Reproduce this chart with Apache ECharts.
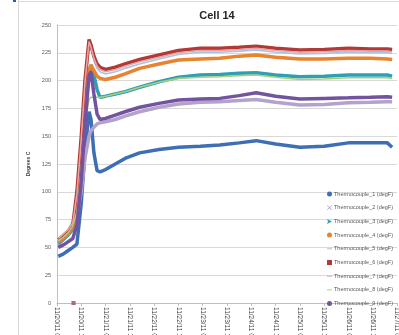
<!DOCTYPE html>
<html>
<head>
<meta charset="utf-8">
<title>Cell 14</title>
<script src="https://cdn.jsdelivr.net/npm/echarts@6/dist/echarts.min.js"></script>
<style>
  html, body { margin: 0; padding: 0; background: #ffffff; }
  #chart { width: 399px; height: 335px; }
</style>
</head>
<body>
<div id="chart"></div>
<script>
// Elapsed time, in axis-tick units (one tick = half a day)
const elapsed = [0.05, 0.25, 0.45, 0.65, 0.82, 1.0, 1.15, 1.32, 1.4, 1.52, 1.65, 1.77, 2.0, 2.4, 2.8,
                 3.4, 4.2, 5.0, 5.9, 6.7, 7.5, 8.2, 9.0, 10.0, 11.0, 12.0, 12.9, 13.6, 13.8];

const tickLabels = ["11/20/11 0:00", "11/20/11 12:00", "11/21/11 0:00", "11/21/11 12:00",
  "11/22/11 0:00", "11/22/11 12:00", "11/23/11 0:00", "11/23/11 12:00", "11/24/11 0:00",
  "11/24/11 12:00", "11/25/11 0:00", "11/25/11 12:00", "11/26/11 0:00", "11/26/11 12:00",
  "11/27/11 0:00"];

const yTicks = [0, 25, 50, 75, 100, 125, 150, 175, 200, 225, 250];

// Thermocouple readings
const tc1 = [42, 44, 47, 50, 53, 90, 135, 172, 165, 135, 119, 118, 120, 125, 130, 135, 138, 140, 141, 142, 144, 146, 143, 140, 141, 144, 144, 144, 140];
const tc2 = [52, 57, 64, 72, 79, 100, 130, 150, 155, 158, 161, 162, 163, 165, 168, 172, 176, 179, 180.5, 181, 182, 183, 180.5, 178, 178.5, 180, 180.5, 181, 181];
const tc3 = [54, 57, 61, 66, 85, 130, 175, 205, 214, 205, 192, 185, 186, 188, 190, 194, 199, 203, 205, 205.5, 206.5, 207, 205, 203.5, 204, 205, 205, 205, 204];
const tc4 = [55, 58, 62, 68, 90, 135, 180, 210, 214, 209, 204, 202, 201, 203, 206, 211, 215, 218.5, 219.5, 220, 222, 223, 221, 219.5, 219.5, 220, 220, 219.5, 219];
const tc5 = [56, 59, 63, 69, 95, 140, 190, 230, 228, 218, 211, 208, 206, 208, 211, 215, 219.5, 223.5, 225.5, 225.5, 226.5, 227.5, 225.5, 224, 224.5, 225.5, 225, 225, 224.5];
const tc6 = [57, 60, 64, 70, 100, 150, 200, 237, 232, 222, 215, 212, 210, 212, 215, 219, 223, 227, 229, 229, 230, 231, 229, 227.5, 228, 229, 228.5, 228.5, 228];
const tc7 = [58, 62, 66, 72, 98, 148, 198, 235, 230, 220, 213, 210, 208, 210, 213, 217, 221, 225, 227, 227, 228, 229, 227, 225.5, 226, 227, 226.5, 226.5, 226];
const tc8 = [56, 59, 63, 69, 82, 120, 165, 183, 185, 185, 185, 185, 186, 188, 190, 194, 198.5, 202, 203, 203.5, 204.5, 205, 203, 201, 201.5, 202.5, 202.5, 202.5, 202];
const tc9 = [50, 52, 55, 58, 70, 110, 160, 205, 208, 188, 170, 165, 166, 169, 172, 176, 179.5, 182.5, 183.5, 184, 186.5, 189, 186, 183.5, 184, 184.5, 185, 185.5, 185];

// Dropped-out readings logged as zero
const zeroTime = [0.68];
const zeroValue = [0];

const names = ["Thermocouple_1 (degF)", "Thermocouple_2 (degF)", "Thermocouple_3 (degF)",
  "Thermocouple_4 (degF)", "Thermocouple_5 (degF)", "Thermocouple_6 (degF)",
  "Thermocouple_7 (degF)", "Thermocouple_8 (degF)", "Thermocouple_9 (degF)"];
const readings = [tc1, tc2, tc3, tc4, tc5, tc6, tc7, tc8, tc9];

const colors = ["#3E6FB4", "#B3A2CB", "#2F9FB4", "#E8832F", "#A8C3E4", "#B23A36", "#E9A2A1", "#A8D07A", "#7352A0"];
const widths = [3.5, 3.5, 3.5, 3.5, 1.6, 3.5, 1.6, 1.6, 3.5];
const xMark = "path://M0,0L10,10M10,0L0,10";
const icons = ["circle", "path://M1,0L5,4L9,0L10,1L6,5L10,9L9,10L5,6L1,10L0,9L4,5L0,1Z",
  "path://M0,0L10,5L0,10L2,5Z", "circle", "path://M0,4L10,4L10,6L0,6Z", "rect",
  "path://M0,4L10,4L10,6L0,6Z", "path://M0,4L10,4L10,6L0,6Z", "circle"];

const pair = (vals) => elapsed.map((t, i) => [t, vals[i]]);
const zeroPts = zeroTime.map((t, i) => [t, zeroValue[i]]);

const series = readings.map((vals, i) => ({
  name: names[i],
  type: "line",
  data: pair(vals),
  showSymbol: false,
  symbol: "none",
  lineStyle: { color: colors[i], width: widths[i] },
  itemStyle: { color: colors[i] },
  z: 2 + i,
  animation: false
}));

// Zero readings from channels 6 and 2
series.push({
  name: names[5], type: "scatter", data: zeroPts, symbol: "rect", symbolSize: 4,
  itemStyle: { color: colors[5] }, z: 20, animation: false
});
series.push({
  name: names[1], type: "scatter", data: zeroPts, symbol: xMark, symbolSize: 4,
  itemStyle: { color: "transparent", borderColor: "#8F7FB8", borderWidth: 0.8 }, z: 21, animation: false
});

const chart = echarts.init(document.getElementById("chart"), null, { renderer: "canvas" });
chart.setOption({
  backgroundColor: "#ffffff",
  animation: false,
  title: {
    text: "Cell 14",
    left: 212, top: 5,
    textAlign: "center",
    textStyle: { fontFamily: "Liberation Sans", fontSize: 11, fontWeight: "bold", color: "#262626" }
  },
  graphic: [
    { type: "line", shape: { x1: 18.5, y1: 0, x2: 18.5, y2: 335 }, style: { stroke: "#d9d9d9", lineWidth: 1 }, silent: true },
    { type: "line", shape: { x1: 18, y1: 1.5, x2: 399, y2: 1.5 }, style: { stroke: "#d9d9d9", lineWidth: 1 }, silent: true },
    { type: "rect", shape: { x: 13, y: 0, width: 3, height: 2 }, style: { fill: "#2f57c8" }, silent: true }
  ],
  legend: {
    orient: "vertical",
    left: 327, top: 191,
    itemWidth: 5, itemHeight: 5, itemGap: 7.7,
    padding: 0,
    textStyle: { fontFamily: "Liberation Sans", fontSize: 5.5, color: "#595959", lineHeight: 5, padding: [0, 0, 0, -3] },
    data: names.map((n, i) => ({ name: n, icon: icons[i], itemStyle: { color: colors[i] } }))
  },
  grid: { left: 57, right: 2, top: 25, bottom: 32, containLabel: false, outerBoundsMode: "none" },
  xAxis: {
    type: "value",
    min: 0, max: 14, interval: 1,
    axisLine: { show: true, onZero: false, lineStyle: { color: "#bfbfbf", width: 1 } },
    axisTick: { show: true, length: 3, lineStyle: { color: "#bfbfbf" } },
    splitLine: { show: false },
    axisLabel: {
      rotate: -90, margin: 4,
      fontFamily: "Liberation Sans", fontSize: 6.5, color: "#404040",
      formatter: (v) => tickLabels[Math.round(v)] || ""
    }
  },
  yAxis: {
    type: "value",
    min: yTicks[0], max: yTicks[yTicks.length - 1], interval: 25,
    name: "Degrees C",
    nameLocation: "middle",
    nameGap: 19,
    nameTextStyle: { fontFamily: "Liberation Sans", fontSize: 5, fontWeight: "bold", color: "#404040" },
    axisLine: { show: true, lineStyle: { color: "#bfbfbf", width: 1 } },
    axisTick: { show: false },
    splitLine: { show: true, lineStyle: { color: "#d9d9d9", width: 1 } },
    axisLabel: { margin: 6, fontFamily: "Liberation Sans", fontSize: 5.5, color: "#595959",
      formatter: (v) => yTicks.includes(v) ? String(v) : "" }
  },
  series: series
});
</script>
</body>
</html>
